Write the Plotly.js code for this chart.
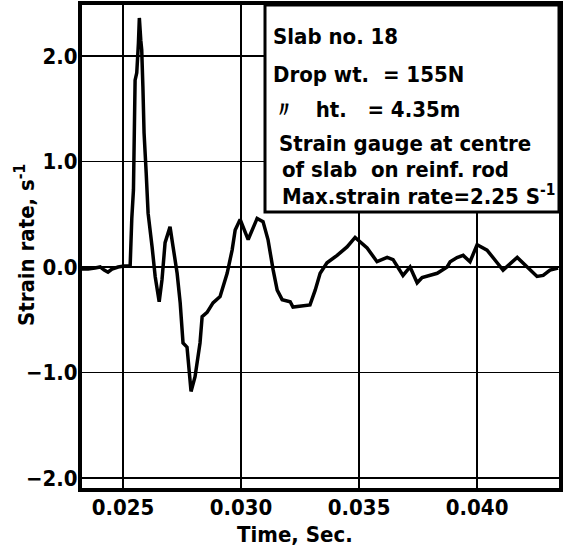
<!DOCTYPE html>
<html>
<head>
<meta charset="utf-8">
<script src="https://cdn.plot.ly/plotly-3.0.1.min.js"></script>
<style>html,body{margin:0;padding:0;background:#fff;}#chart{width:569px;height:554px;}</style>
</head>
<body>
<div id="chart"></div>
<script>
// Time (s) and strain rate (1/s)
const timeSec = [0.02326,0.02352,0.02381,0.02403,0.02420,0.02436,0.02453,0.02479,0.02504,0.02530,
  0.02537,0.02544,0.02551,0.02558,0.02565,0.02569,0.02575,0.02579,0.02584,0.02589,0.02598,0.02606,
  0.02623,0.02636,0.02653,0.02665,0.02678,0.02699,0.02712,0.02729,0.02742,0.02754,0.02771,0.02788,
  0.02805,0.02826,0.02835,0.02856,0.02881,0.02911,0.02941,0.02962,0.02975,0.02996,0.03030,0.03068,
  0.03093,0.03114,0.03136,0.03153,0.03174,0.03208,0.03220,0.03292,0.03314,0.03335,0.03364,0.03407,
  0.03449,0.03483,0.03534,0.03576,0.03619,0.03644,0.03686,0.03716,0.03746,0.03767,0.03831,0.03873,
  0.03886,0.03915,0.03941,0.03970,0.04000,0.04042,0.04085,0.04110,0.04170,0.04212,0.04254,0.04280,
  0.04309,0.04343];
const strainRate = [-0.02,-0.02,-0.01,0.00,-0.03,-0.05,-0.02,0.00,0.01,0.01,
  0.46,0.73,1.77,1.84,2.12,2.36,2.15,2.06,1.71,1.27,0.89,0.51,
  0.19,-0.09,-0.33,-0.12,0.23,0.38,0.19,-0.06,-0.34,-0.72,-0.76,-1.18,
  -1.04,-0.72,-0.47,-0.43,-0.34,-0.28,-0.06,0.16,0.35,0.45,0.26,0.46,
  0.43,0.26,-0.03,-0.22,-0.31,-0.33,-0.38,-0.36,-0.22,-0.06,0.04,0.11,
  0.19,0.28,0.18,0.05,0.09,0.07,-0.08,0.00,-0.15,-0.10,-0.06,0.00,
  0.05,0.09,0.11,0.05,0.21,0.16,0.04,-0.03,0.09,0.00,-0.09,-0.08,
  -0.03,-0.01];
const xTickVals = [0.025,0.030,0.035,0.040];
const xTickText = ["0.025","0.030","0.035","0.040"];
const yTickVals = [-2,-1,0,1,2];
const yTickText = ["\u22122.0","\u22121.0","0.0","1.0","2.0"];
const infoLines = ["Slab no. 18","Drop wt.  = 155N","\u3003   ht.   = 4.35m","Strain gauge at centre","of slab  on reinf. rod","Max.strain rate=2.25 S<sup>-1</sup>"];

const FONT = "'DejaVu Sans Condensed', 'Liberation Sans Narrow', 'DejaVu Sans', sans-serif";

const trace = {x: timeSec, y: strainRate, type: 'scatter', mode: 'lines',
  line: {color: '#000', width: 3.5}, hoverinfo: 'skip'};

const lineY = [36, 74, 109, 143, 169, 195];
const lineX = [271, 271, 271, 277, 280, 280];
const W = 477, H = 483, L = 82, T = 5;
const px = v => (v - L) / W, py = v => (T + H - v) / H;
const annotations = infoLines.map((t, i) => ({
  text: t, xref: 'paper', yref: 'paper',
  x: px(lineX[i]), y: py(lineY[i]),
  xanchor: 'left', yanchor: 'middle', showarrow: false,
  font: {family: FONT, size: 22, color: '#000', weight: 'bold'}
}));
annotations.push({text: 'Time, Sec.', xref: 'paper', yref: 'paper', x: px(295), y: py(534),
  xanchor: 'center', yanchor: 'middle', showarrow: false,
  font: {family: FONT, size: 22, color: '#000', weight: 'bold'}});
annotations.push({text: 'Strain rate, s<sup>-1</sup>', xref: 'paper', yref: 'paper', x: px(25), y: py(245),
  xanchor: 'center', yanchor: 'middle', showarrow: false, textangle: -90,
  font: {family: FONT, size: 22, color: '#000', weight: 'bold'}});

const layout = {
  width: 569, height: 554,
  margin: {l: 82, r: 10, t: 5, b: 66, pad: 0},
  paper_bgcolor: '#fff', plot_bgcolor: '#fff',
  showlegend: false,
  xaxis: {range: [0.02326, 0.04347], tickvals: xTickVals, ticktext: xTickText,
    showgrid: true, gridcolor: '#000', gridwidth: 1.5, zeroline: false,
    showline: true, linecolor: '#000', linewidth: 4, mirror: true, ticks: '',
    ticklabelstandoff: -3,
    tickfont: {family: FONT, size: 22, color: '#000', weight: 'bold'}},
  yaxis: {range: [-2.095, 2.483], tickvals: yTickVals, ticktext: yTickText,
    showgrid: true, gridcolor: '#000', gridwidth: 1.5, zeroline: false,
    showline: true, linecolor: '#000', linewidth: 4, mirror: true, ticks: '',
    ticklabelstandoff: -4,
    tickfont: {family: FONT, size: 22, color: '#000', weight: 'bold'}},
  shapes: [{type: 'rect', xref: 'paper', yref: 'paper', layer: 'above',
    x0: px(265), x1: 1, y0: py(212), y1: 1,
    fillcolor: '#fff', line: {color: '#000', width: 3}}],
  annotations: annotations
};

Plotly.newPlot('chart', [trace], layout, {staticPlot: true, displayModeBar: false});
</script>
</body>
</html>
